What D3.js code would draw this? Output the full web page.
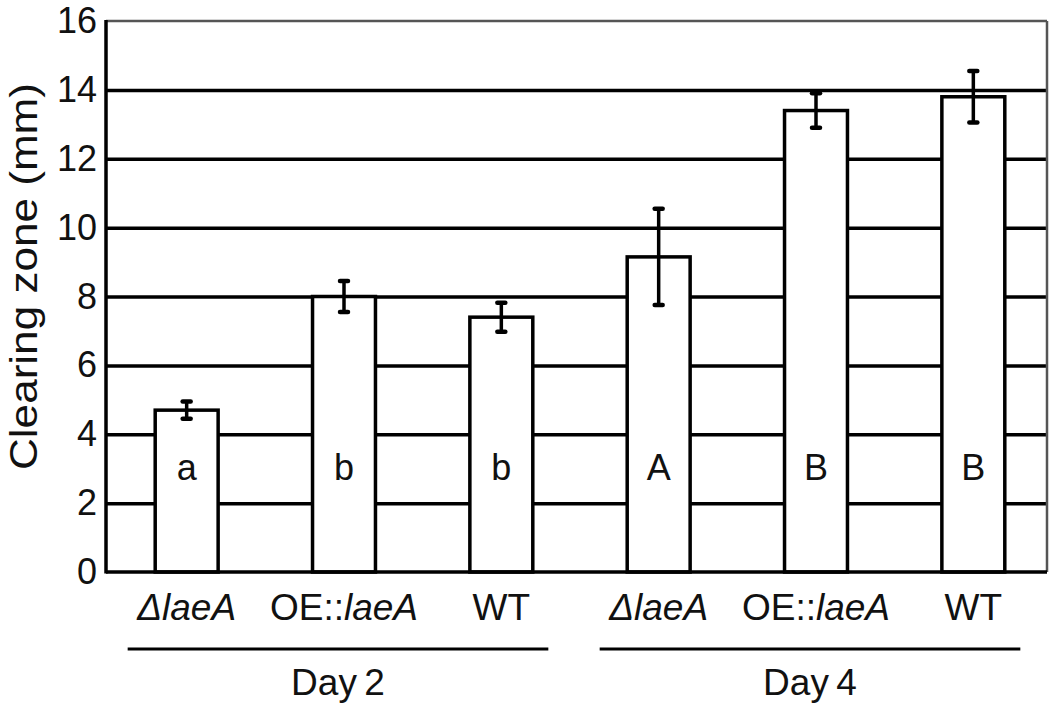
<!DOCTYPE html>
<html>
<head>
<meta charset="utf-8">
<script src="https://cdn.jsdelivr.net/npm/d3@7"></script>
<style>
  html, body { margin: 0; padding: 0; background: #fff; }
  svg { display: block; font-family: "Liberation Sans", Arial, sans-serif; }
</style>
</head>
<body>
<svg id="chart" width="1050" height="706"></svg>
<script>
// ---- data ----
const strains   = ["ΔlaeA", "OE::laeA", "WT", "ΔlaeA", "OE::laeA", "WT"];
const days      = ["Day 2", "Day 2", "Day 2", "Day 4", "Day 4", "Day 4"];
const means     = [4.7, 8.0, 7.4, 9.15, 13.4, 13.8];
const errors    = [0.25, 0.45, 0.42, 1.4, 0.5, 0.75];
const letters   = ["a", "b", "b", "A", "B", "B"];
const groups    = ["Day 2", "Day 4"];
const yTicks    = [0, 2, 4, 6, 8, 10, 12, 14, 16];
const yTitle    = "Clearing zone (mm)";

// ---- layout ----
const svg = d3.select("#chart");
const plotL = 106, plotR = 1047, plotT = 21, plotB = 572;

const x = d3.scaleBand()
  .domain(d3.range(means.length))
  .range([108, 1052])
  .paddingInner(0.6)
  .paddingOuter(0.3);
const y = d3.scaleLinear().domain([0, 16]).range([plotB, plotT]);

// gridlines
const grid = svg.append("g")
  .attr("transform", `translate(${plotL},0)`)
  .call(d3.axisLeft(y).tickValues(yTicks.filter(v => v > 0 && v < 16)).tickSize(-(plotR - plotL)).tickFormat(""));
grid.select(".domain").remove();
grid.selectAll("line").attr("stroke", "#000").attr("stroke-width", 3.5);

// top and right frame (lighter)
svg.append("line").attr("x1", plotL).attr("x2", plotR).attr("y1", y(16)).attr("y2", y(16))
  .attr("stroke", "#555").attr("stroke-width", 2.5);
svg.append("line").attr("x1", plotR).attr("x2", plotR).attr("y1", y(16)).attr("y2", y(0))
  .attr("stroke", "#555").attr("stroke-width", 2.5);

// bars
svg.append("g").selectAll("rect")
  .data(means)
  .join("rect")
  .attr("x", (d, i) => x(i))
  .attr("y", d => y(d))
  .attr("width", x.bandwidth())
  .attr("height", d => y(0) - y(d))
  .attr("fill", "#fff")
  .attr("stroke", "#000")
  .attr("stroke-width", 3.5);

// error bars
const eb = svg.append("g");
means.forEach((m, i) => {
  const cx = x(i) + x.bandwidth() / 2;
  const e = errors[i];
  eb.append("line").attr("x1", cx).attr("x2", cx).attr("y1", y(m + e)).attr("y2", y(m - e))
    .attr("stroke", "#000").attr("stroke-width", 3.5);
  [m + e, m - e].forEach(v => {
    eb.append("line").attr("x1", cx - 4).attr("x2", cx + 4).attr("y1", y(v)).attr("y2", y(v))
      .attr("stroke", "#000").attr("stroke-width", 4.5).attr("stroke-linecap", "round");
  });
});

// axes lines
svg.append("line").attr("x1", plotL).attr("x2", plotR).attr("y1", y(0)).attr("y2", y(0))
  .attr("stroke", "#000").attr("stroke-width", 3.5);
svg.append("line").attr("x1", plotL).attr("x2", plotL).attr("y1", y(16) - 1).attr("y2", y(0) + 1.5)
  .attr("stroke", "#000").attr("stroke-width", 3.5);

// y tick labels
const yAxis = svg.append("g")
  .attr("transform", `translate(${plotL},0)`)
  .call(d3.axisLeft(y).tickValues(yTicks).tickSize(0).tickPadding(9).tickFormat(d3.format("d")));
yAxis.select(".domain").remove();
yAxis.selectAll("text")
  .attr("font-family", "Liberation Sans, Arial, sans-serif")
  .attr("font-size", 36).attr("fill", "#111");

// y title
svg.append("text")
  .attr("transform", `translate(37,${(83 + 470) / 2}) rotate(-90)`)
  .attr("text-anchor", "middle")
  .attr("font-size", 38)
  .attr("fill", "#111")
  .attr("textLength", 387)
  .attr("lengthAdjust", "spacingAndGlyphs")
  .text(yTitle);

// significance letters
svg.append("g").selectAll("text")
  .data(letters)
  .join("text")
  .attr("x", (d, i) => x(i) + x.bandwidth() / 2)
  .attr("y", 480)
  .attr("text-anchor", "middle")
  .attr("font-size", 36)
  .attr("fill", "#111")
  .text(d => d);

// x tick labels
const xl = svg.append("g").selectAll("text")
  .data(strains)
  .join("text")
  .attr("x", (d, i) => x(i) + x.bandwidth() / 2)
  .attr("y", 620)
  .attr("text-anchor", "middle")
  .attr("font-size", 37)
  .attr("fill", "#111");
xl.each(function(d) {
  const t = d3.select(this);
  if (d.startsWith("OE::")) {
    t.append("tspan").text("OE::");
    t.append("tspan").attr("font-style", "italic").text(d.slice(4));
  } else if (d.startsWith("Δ")) {
    t.append("tspan").attr("font-style", "italic").text(d);
  } else {
    t.text(d);
  }
});

// group lines and labels
groups.forEach(g => {
  const idx = days.map((d, i) => d === g ? i : -1).filter(i => i >= 0);
  const x0 = x(idx[0]) + x.bandwidth() / 2 - 59;
  const x1 = x(idx[idx.length - 1]) + x.bandwidth() / 2 + 47;
  svg.append("line").attr("x1", x0).attr("x2", x1).attr("y1", 649).attr("y2", 649)
    .attr("stroke", "#000").attr("stroke-width", 3);
  svg.append("text")
    .attr("x", (x0 + x1) / 2)
    .attr("y", 695)
    .attr("text-anchor", "middle")
    .attr("font-size", 37)
    .attr("fill", "#111")
    .text(g.replace(" ", "\u2009"));
});
</script>
</body>
</html>
